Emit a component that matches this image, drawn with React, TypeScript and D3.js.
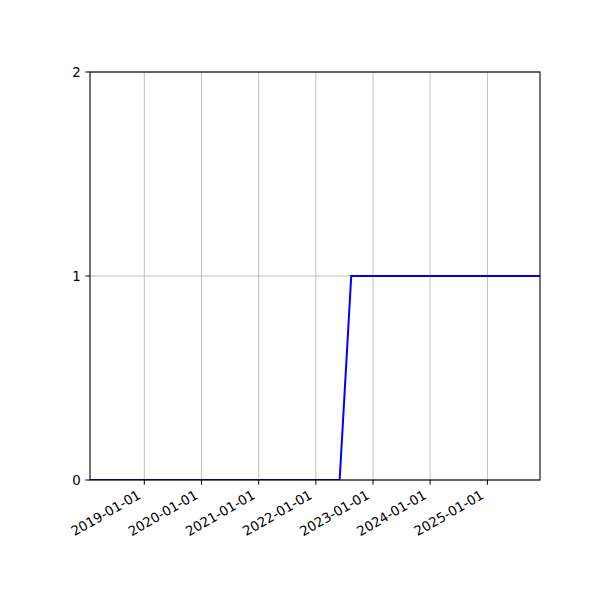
import * as d3 from "d3";

const dates = ["2018-01-19", "2022-06-02", "2022-08-15", "2025-12-03"];
const values = [0, 0, 1, 1];
const xTicks = ["2019-01-01", "2020-01-01", "2021-01-01", "2022-01-01", "2023-01-01", "2024-01-01", "2025-01-01"];
const yTicks = [0, 1, 2];

const W = 600;
const H = 600;
const M = { left: 90, right: 60, top: 72, bottom: 120 };

const parse = d3.utcParse("%Y-%m-%d");

const App = () => {
  const points = dates.map((d, i) => ({ date: parse(d)!, value: values[i] }));

  const x = d3
    .scaleUtc()
    .domain([points[0].date, points[points.length - 1].date])
    .range([M.left, W - M.right]);
  const y = d3.scaleLinear().domain([0, 2]).range([H - M.bottom, M.top]);

  const line = d3
    .line<{ date: Date; value: number }>()
    .x((d) => x(d.date))
    .y((d) => y(d.value));

  const font = "DejaVu Sans, sans-serif";
  const bottom = H - M.bottom;
  const tickLen = 4.67;
  const pad = 4.67;

  return (
    <svg
      width={W}
      height={H}
      style={{ position: "absolute", left: 0, top: 0, background: "white" }}
      fontFamily={font}
      fontSize={13.33}
    >
      <defs>
        <clipPath id="plot">
          <rect x={M.left} y={M.top} width={W - M.left - M.right} height={bottom - M.top} />
        </clipPath>
      </defs>

      {/* grid */}
      {xTicks.map((t) => (
        <line key={t} x1={x(parse(t)!)} x2={x(parse(t)!)} y1={M.top} y2={bottom} stroke="#b0b0b0" strokeWidth={0.8} />
      ))}
      {yTicks.map((t) => (
        <line key={t} x1={M.left} x2={W - M.right} y1={y(t)} y2={y(t)} stroke="#b0b0b0" strokeWidth={0.8} />
      ))}

      <path d={line(points) ?? ""} fill="none" stroke="#0000ff" strokeWidth={2} clipPath="url(#plot)" />

      {/* spines */}
      <rect
        x={M.left}
        y={M.top}
        width={W - M.left - M.right}
        height={bottom - M.top}
        fill="none"
        stroke="black"
        strokeWidth={1.1}
      />

      {/* x ticks */}
      {xTicks.map((t) => {
        const px = x(parse(t)!);
        const ty = bottom + tickLen + pad;
        const ax = px - 7.5;
        return (
          <g key={t}>
            <line x1={px} x2={px} y1={bottom} y2={bottom + tickLen} stroke="black" strokeWidth={1} />
            <text
              x={ax}
              y={ty}
              textAnchor="end"
              dominantBaseline="hanging"
              transform={`rotate(-30, ${ax}, ${ty})`}
            >
              {t}
            </text>
          </g>
        );
      })}

      {/* y ticks */}
      {yTicks.map((t) => (
        <g key={t}>
          <line x1={M.left - tickLen} x2={M.left} y1={y(t)} y2={y(t)} stroke="black" strokeWidth={1} />
          <text x={M.left - tickLen - pad} y={y(t)} textAnchor="end" dominantBaseline="central">
            {t}
          </text>
        </g>
      ))}
    </svg>
  );
};

export default App;
